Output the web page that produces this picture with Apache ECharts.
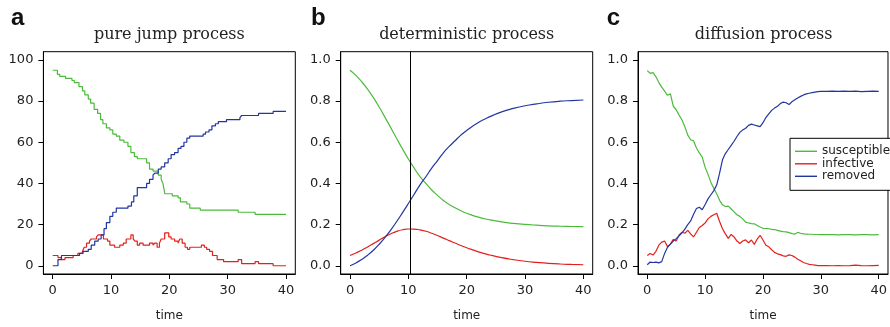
<!DOCTYPE html>
<html>
<head>
<meta charset="utf-8">
<script src="https://cdn.jsdelivr.net/npm/echarts@6/dist/echarts.min.js"></script>
<style>
html,body{margin:0;padding:0;background:#fff;}
#chart{width:890px;height:327px;}
</style>
</head>
<body>
<div id="chart"></div>
<script>
// ---------- data ----------
const seriesNames = ['susceptible', 'infective', 'removed'];
const panelTitles = ['pure jump process', 'deterministic process', 'diffusion process'];
const panelLetters = ['a', 'b', 'c'];
const xTicks = [0, 10, 20, 30, 40];
const yTicksA = [0, 20, 40, 60, 80, 100];
const yTicksBC = [0, 0.2, 0.4, 0.6, 0.8, 1.0];
const vLineB = 10.3;

// panel a: pure jump process (step functions, counts)
const aSusT = [0,0.8,1.2,2.2,3.3,3.7,4.5,5.1,5.5,6.1,6.5,7.1,7.7,8.2,8.6,9.2,9.8,10.3,10.9,11.5,12.2,12.9,13.4,14.0,14.5,16.1,16.6,17.2,18.1,18.6,18.9,19.1,19.2,20.5,21.5,21.9,23.0,23.5,25.3,31.8,34.7,40];
const aSusV = [95,93,92,91,90,89,87,85,83,81,79,76,74,71,69,67,66,64,63,61,60,58,55,53,52,50,47,46,44,42,40,37,35,34,33,31,30,28,27,26,25,25];
const aInfT = [0,0.9,1.5,2.1,3.5,4.3,5.1,5.4,5.8,6.3,6.6,7.5,7.8,8.7,9.4,9.8,10.6,11.5,12.1,12.6,13.4,13.8,14.1,14.5,14.9,15.5,16.6,17.2,17.5,17.9,18.3,18.6,19.2,19.9,20.3,20.9,21.5,21.8,22.2,22.7,23.1,23.5,25.5,26.0,26.4,26.9,27.4,28.2,29.3,31.8,32.4,34.7,35.3,37.8,40];
const aInfV = [5,4,3,4,5,6,7,9,11,12,13,14,15,13,12,10,9,10,11,13,15,13,12,10,11,10,11,10,11,9,11,13,16,14,13,12,11,13,11,9,8,9,10,9,8,7,5,3,2,3,1,2,1,0,0];
const aRemT = [0,0.9,1.5,4.6,5.2,6.1,6.6,7.2,7.8,8.3,8.8,9.2,9.8,10.3,10.9,12.9,13.5,13.9,14.5,16.1,16.6,17.2,17.5,18.1,18.6,19.2,19.8,20.3,20.9,21.5,22.0,22.5,23.0,23.5,25.8,26.2,26.8,27.3,27.9,28.4,29.8,32.1,32.4,35.3,37.8,40];
const aRemV = [0,3,5,6,7,8,10,12,13,15,18,21,24,26,28,29,31,34,38,40,42,44,45,47,48,50,52,54,55,57,58,60,62,63,64,65,66,68,69,70,71,72,73,74,75,75];

// panel b: deterministic process (proportions)
const bT = [0,1,2,3,4,5,6,7,8,9,10,11,12,13,14,15,16,17,18,19,20,22,24,26,28,30,32,34,36,38,40];
const bSus = [0.95,0.925,0.894,0.858,0.817,0.771,0.721,0.670,0.618,0.567,0.519,0.474,0.433,0.400,0.368,0.342,0.317,0.298,0.282,0.267,0.255,0.236,0.223,0.213,0.206,0.2007,0.197,0.194,0.192,0.1908,0.1898];
const bInf = [0.05,0.0617,0.0756,0.091,0.1076,0.1246,0.1411,0.1554,0.167,0.175,0.1787,0.1783,0.1741,0.1675,0.1578,0.1472,0.1342,0.1223,0.1107,0.0984,0.0874,0.0677,0.0523,0.0394,0.0297,0.022,0.0164,0.0117,0.0085,0.0066,0.0049];
const bRem = [0,0.0133,0.0304,0.051,0.0754,0.1044,0.1379,0.1746,0.215,0.258,0.3023,0.3477,0.3929,0.4325,0.4742,0.5108,0.5488,0.5797,0.6073,0.6346,0.6576,0.6963,0.7247,0.7476,0.7643,0.7773,0.7866,0.7943,0.7995,0.8026,0.8053];

// panel c: diffusion process (proportions)
const cT = [0,0.5,1,1.5,2,2.5,3,3.5,4,4.5,5,5.5,6,6.5,7,7.5,8,8.5,9,9.5,10,10.5,11,11.5,12,12.5,13,13.5,14,14.5,15,15.5,16,16.5,17,17.5,18,18.5,19,19.5,20,20.5,21,21.5,22,22.5,23,23.5,24,24.5,25,25.5,26,26.5,27,27.5,28,28.5,29,29.5,30,31,32,33,34,35,36,37,38,39,40];
const cSus = [0.948,0.935,0.938,0.918,0.89,0.868,0.848,0.828,0.835,0.775,
  0.758,0.732,0.708,0.675,0.635,0.612,0.607,0.572,0.548,0.528,
  0.478,0.444,0.405,0.376,0.35,0.318,0.296,0.288,0.29,0.276,
  0.262,0.248,0.24,0.228,0.212,0.208,0.205,0.204,0.196,0.188,
  0.182,0.181,0.18,0.177,0.176,0.172,0.168,0.166,0.165,0.161,
  0.156,0.154,0.162,0.158,0.155,0.154,0.153,0.153,0.152,0.152,
  0.151,
  0.151,0.151,0.150,0.151,0.151,0.150,0.151,0.151,0.150,0.151];
const cInf = [0.05,0.06,0.052,0.07,0.1,0.115,0.12,0.093,0.105,0.128,
  0.12,0.15,0.163,0.158,0.172,0.155,0.14,0.163,0.186,0.196,
  0.208,0.228,0.24,0.248,0.255,0.215,0.18,0.155,0.133,0.152,
  0.14,0.12,0.108,0.12,0.126,0.112,0.125,0.104,0.13,0.148,
  0.125,0.1,0.092,0.078,0.065,0.058,0.054,0.048,0.046,0.053,
  0.05,0.042,0.032,0.024,0.016,0.011,0.007,0.005,0.003,0.001,
  0.001,
  0.001,0,0.001,0,0.001,0.003,0.001,0,0.001,0.002];
const cRem = [0.005,0.018,0.016,0.018,0.014,0.02,0.06,0.09,0.105,0.12,
  0.132,0.145,0.16,0.178,0.2,0.218,0.25,0.278,0.284,0.272,
  0.298,0.325,0.345,0.365,0.392,0.45,0.515,0.545,0.565,0.585,
  0.605,0.628,0.648,0.66,0.668,0.682,0.688,0.684,0.68,0.676,
  0.695,0.72,0.738,0.755,0.766,0.775,0.788,0.795,0.792,0.783,
  0.797,0.806,0.815,0.823,0.83,0.835,0.838,0.841,0.844,0.846,
  0.847,
  0.847,0.848,0.847,0.848,0.847,0.848,0.846,0.847,0.848,0.847];

// ---------- styling / layout ----------
const colors = ['#4cbb3c', '#e3201b', '#2236a0'];
const grids = [
  {left: 43.4, top: 51.7, width: 251.9, height: 226},
  {left: 340.7, top: 51.7, width: 252, height: 226},
  {left: 638, top: 51.7, width: 251.3, height: 226}
];
const tickFont = 'DejaVu Sans';
const textColor = '#222';

function pairs(t, v) { return t.map((x, i) => [x, v[i]]); }

const xAxes = grids.map((g, i) => ({
  type: 'value', gridIndex: i, min: -1.6, max: 41.6, position: 'bottom',
  name: 'time', nameLocation: 'middle', nameGap: 36,
  nameTextStyle: {fontFamily: tickFont, fontSize: 12, color: textColor},
  axisLine: {show: true, onZero: false, lineStyle: {color: '#000', width: 1}},
  axisTick: {show: true, length: 5, lineStyle: {color: '#000'}, customValues: xTicks},
  axisLabel: {show: true, margin: 10, fontFamily: tickFont, fontSize: 13, color: textColor, customValues: xTicks},
  splitLine: {show: false}
}));
const yAxes = grids.map((g, i) => ({
  type: 'value', gridIndex: i, position: 'left',
  min: i === 0 ? -4 : -0.04, max: i === 0 ? 104 : 1.04,
  axisLine: {show: true, onZero: false, lineStyle: {color: '#000', width: 1}},
  axisTick: {show: true, length: 5, lineStyle: {color: '#000'}, customValues: i === 0 ? yTicksA : yTicksBC},
  axisLabel: {show: true, margin: 10, fontFamily: tickFont, fontSize: 13, color: textColor,
    customValues: i === 0 ? yTicksA : yTicksBC,
    formatter: i === 0 ? (v => String(Math.round(v))) : (v => v.toFixed(1))},
  splitLine: {show: false}
}));

function lineSeries(name, idx, data, extra) {
  return Object.assign({
    type: 'line', name: name, xAxisIndex: idx, yAxisIndex: idx,
    data: data, symbol: 'none', showSymbol: false, animation: false,
    lineStyle: {width: 1.2, color: colors[seriesNames.indexOf(name)]},
    itemStyle: {color: colors[seriesNames.indexOf(name)]}
  }, extra || {});
}

const series = [
  lineSeries('susceptible', 0, pairs(aSusT, aSusV), {step: 'end'}),
  lineSeries('infective', 0, pairs(aInfT, aInfV), {step: 'end'}),
  lineSeries('removed', 0, pairs(aRemT, aRemV), {step: 'end'}),
  lineSeries('susceptible', 1, pairs(bT, bSus), {smooth: true}),
  lineSeries('infective', 1, pairs(bT, bInf), {smooth: true,
    markLine: {silent: true, symbol: 'none', label: {show: false}, animation: false,
      lineStyle: {color: '#000', type: 'solid', width: 1}, data: [{xAxis: vLineB}]}}),
  lineSeries('removed', 1, pairs(bT, bRem), {smooth: true}),
  lineSeries('susceptible', 2, pairs(cT, cSus)),
  lineSeries('infective', 2, pairs(cT, cInf)),
  lineSeries('removed', 2, pairs(cT, cRem))
];

const graphics = [];
grids.forEach((g, i) => {
  graphics.push({type: 'text', x: g.left + g.width / 2, y: 35,
    style: {text: panelTitles[i], fill: textColor, font: '16px "DejaVu Serif"', align: 'center', verticalAlign: 'middle'}});
});
[11, 311, 606.7].forEach((x, i) => {
  graphics.push({type: 'text', x: x, y: 18,
    style: {text: panelLetters[i], fill: '#111', font: 'bold 24px "Liberation Sans"', align: 'left', verticalAlign: 'middle'}});
});

const option = {
  animation: false,
  backgroundColor: '#fff',
  grid: grids.map(g => Object.assign({show: true, borderColor: '#000', borderWidth: 1, backgroundColor: 'transparent'}, g)),
  xAxis: xAxes,
  yAxis: yAxes,
  legend: {
    data: seriesNames, orient: 'vertical', left: 790, top: 138.3,
    padding: [7, 3, 8, 5], itemGap: 0.5, itemWidth: 22, itemHeight: 1.4,
    icon: 'rect',
    borderColor: '#000', borderWidth: 1, backgroundColor: '#fff',
    selectedMode: false,
    textStyle: {fontFamily: tickFont, fontSize: 12, lineHeight: 12, color: textColor}
  },
  graphic: graphics,
  series: series
};

const chart = echarts.init(document.getElementById('chart'), null, {renderer: 'canvas'});
chart.setOption(option);
</script>
</body>
</html>
